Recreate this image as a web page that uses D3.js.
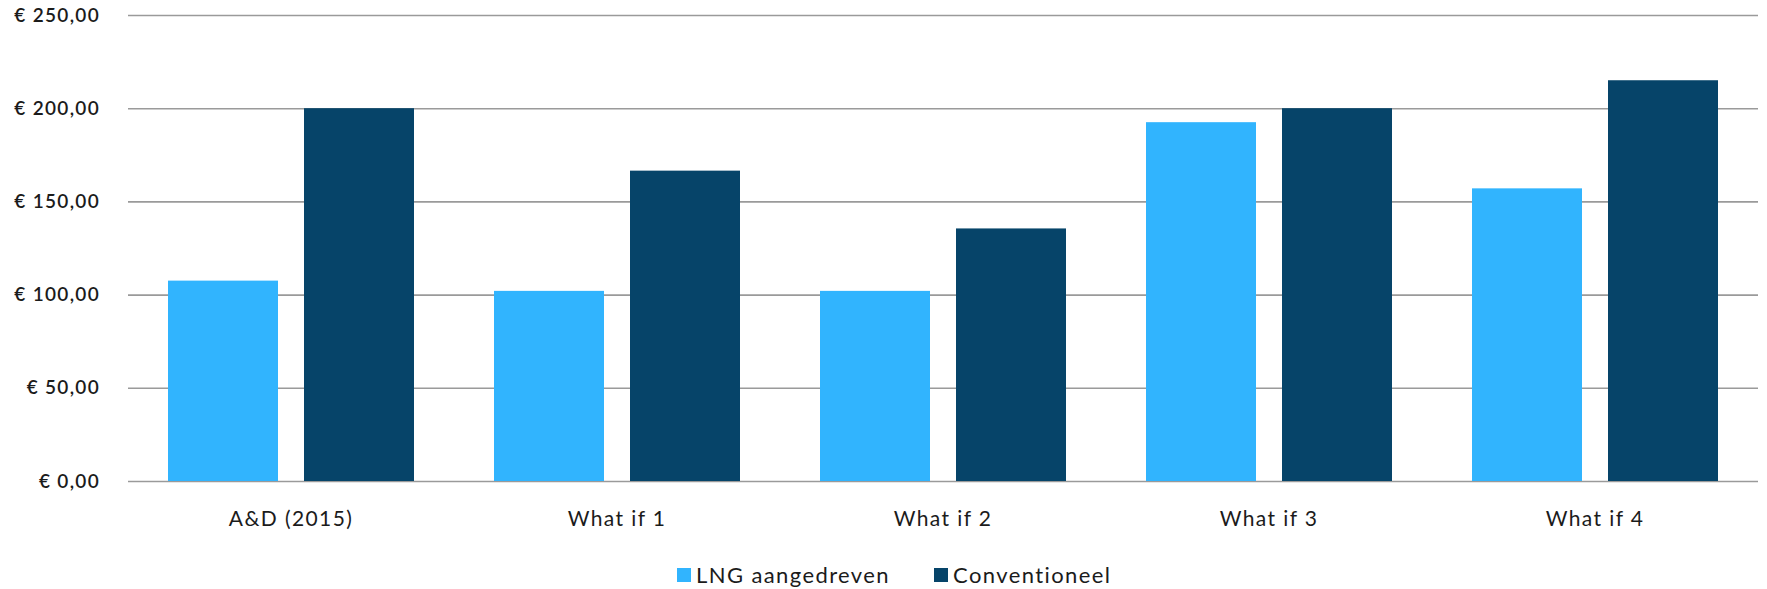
<!DOCTYPE html>
<html>
<head>
<meta charset="utf-8">
<script src="https://cdn.jsdelivr.net/npm/d3@7"></script>
<style>
  html, body { margin: 0; padding: 0; background: #fff; }
  svg { display: block; }
  text { font-family: Lato, "Open Sans", sans-serif; fill: #1b1b1b; }
</style>
</head>
<body>
<svg id="chart" width="1767" height="589"></svg>
<script>
// Kosten per scenario (euro)
const categories = ["A&D (2015)", "What if 1", "What if 2", "What if 3", "What if 4"];
const seriesNames = ["LNG aangedreven", "Conventioneel"];
const lngValues = [107.5, 102, 102, 192.5, 157];
const convValues = [200, 166.5, 135.5, 200, 215];
const yTicks = [0, 50, 100, 150, 200, 250];
const colors = ["#31b4fe", "#064469"];

const W = 1767, H = 589;
const margin = { top: 15, right: 9, bottom: 108, left: 128 };
const svg = d3.select("#chart");

const x0 = d3.scaleBand()
  .domain(categories)
  .range([margin.left, W - margin.right])
  .paddingInner(80 / 326)
  .paddingOuter(40 / 326);

const x1 = d3.scaleBand()
  .domain(seriesNames)
  .range([0, x0.bandwidth()])
  .paddingInner(26 / 136)
  .paddingOuter(0);

const y = d3.scaleLinear()
  .domain([0, 250])
  .range([H - margin.bottom, margin.top]);

const fmt = v => "€ " + d3.format(".2f")(v).replace(".", ",");

// Horizontal gridlines and value labels
const yAxis = d3.axisLeft(y)
  .tickValues(yTicks)
  .tickSize(-(W - margin.left - margin.right))
  .tickPadding(28)
  .tickFormat(fmt);

const gy = svg.append("g")
  .attr("transform", `translate(${margin.left},0)`)
  .call(yAxis);
gy.select(".domain").remove();
gy.selectAll(".tick line").attr("stroke", "#9a9a9a").attr("stroke-width", 1.6);
gy.selectAll(".tick text")
  .attr("font-size", 19)
  .attr("font-weight", 600)
  .style("letter-spacing", "1.3px")
  .attr("fill", "#1b1b1b");

// Grouped bars
const rows = categories.map((c, i) => ({ cat: c, vals: [lngValues[i], convValues[i]] }));

const groups = svg.append("g").selectAll("g")
  .data(rows)
  .join("g")
  .attr("transform", d => `translate(${x0(d.cat)},0)`);

groups.selectAll("rect")
  .data(d => d.vals.map((v, j) => ({ key: seriesNames[j], v, j })))
  .join("rect")
  .attr("x", d => x1(d.key))
  .attr("width", x1.bandwidth())
  .attr("y", d => y(d.v))
  .attr("height", d => y(0) - y(d.v))
  .attr("fill", d => colors[d.j]);

// Category labels
const xAxis = d3.axisBottom(x0).tickSize(0).tickPadding(30);
const gx = svg.append("g")
  .attr("transform", `translate(0,${H - margin.bottom})`)
  .call(xAxis);
gx.select(".domain").remove();
gx.selectAll(".tick text")
  .attr("font-size", 21)
  .style("letter-spacing", "1.4px")
  .attr("fill", "#1b1b1b");

// Legend
const legendItems = [
  { name: seriesNames[0], color: colors[0], x: 677 },
  { name: seriesNames[1], color: colors[1], x: 934 }
];
const legend = svg.append("g").attr("transform", "translate(0,568)");
legendItems.forEach(it => {
  legend.append("rect")
    .attr("x", it.x).attr("y", 0)
    .attr("width", 14).attr("height", 14)
    .attr("fill", it.color);
  legend.append("text")
    .attr("x", it.x + 19).attr("y", 15)
    .attr("font-size", 22)
    .style("letter-spacing", "1.4px")
    .text(it.name);
});
</script>
</body>
</html>
